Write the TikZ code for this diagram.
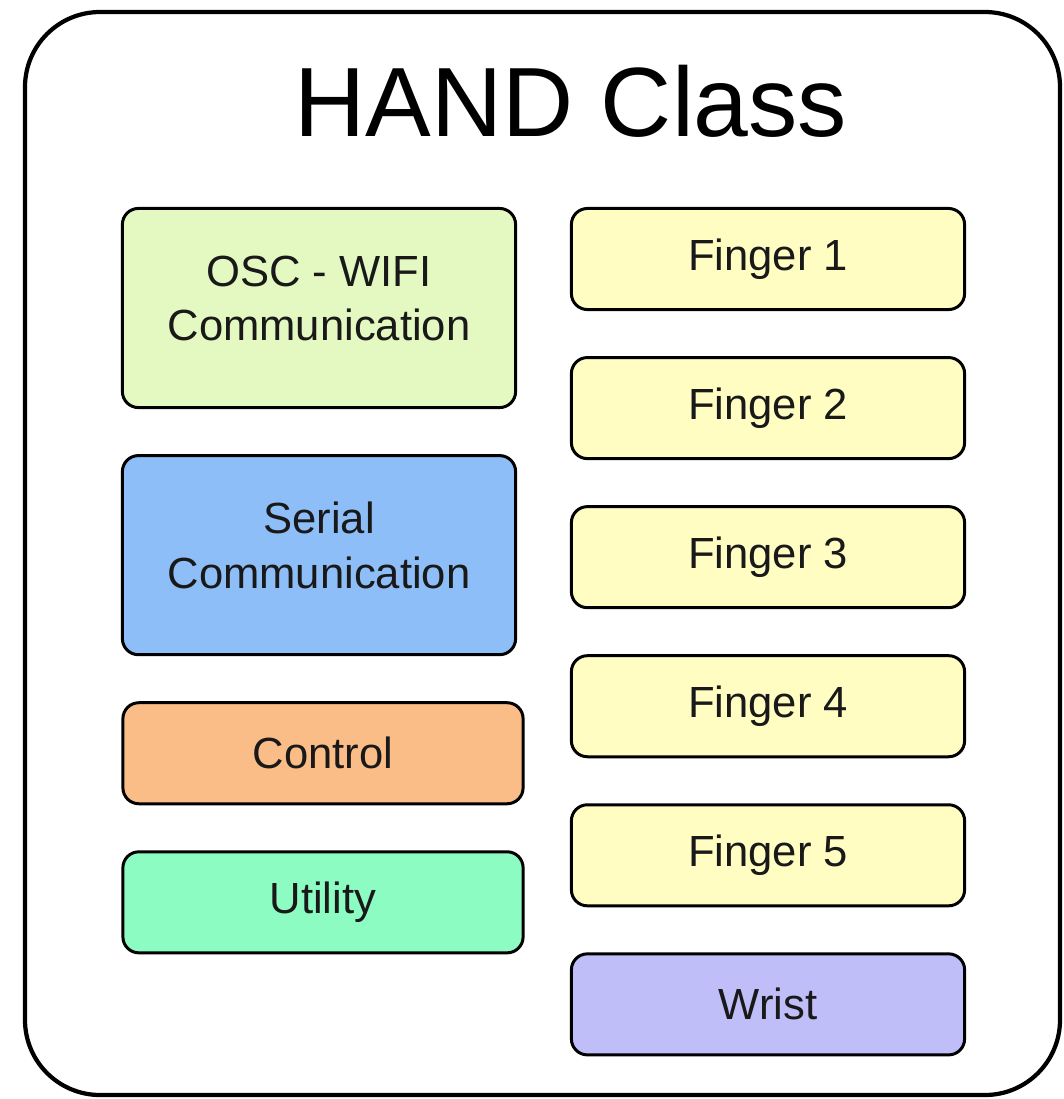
\documentclass[tikz,border=0pt]{standalone}
\usepackage{fontspec}
\setmainfont{Liberation Sans}
\usetikzlibrary{positioning}
\definecolor{wifigreen}{HTML}{E4F9C2}
\definecolor{serialblue}{HTML}{8EBEF8}
\definecolor{ctrlorange}{HTML}{FBBD88}
\definecolor{utilgreen}{HTML}{8CFCC3}
\definecolor{fingeryellow}{HTML}{FFFDC2}
\definecolor{wristviolet}{HTML}{C0BEF8}

\begin{document}
\begin{tikzpicture}[x=0.01cm,y=-0.01cm,
    part/.style={draw=black,line width=0.85pt,rounded corners=0.16cm,align=center,
      minimum width=3.93cm,minimum height=1.01cm,inner sep=0pt,text=black!90,
      font=\fontsize{12.4}{15.4}\selectfont},
    bigpart/.style={part,minimum height=1.99cm,text depth=0.2cm},
    node distance=0.45cm]
  \useasboundingbox (0,0) rectangle (1064,1099);
  \draw[line width=1.2pt,rounded corners=0.75cm] (25,12) rectangle (1060,1095);
  \node[font=\fontsize{28}{32}\selectfont] (title) at (571,101) {HAND Class};
  % left column
  \node[bigpart,fill=wifigreen] (wifi) at (319,308) {OSC - WIFI\\Communication};
  \node[bigpart,fill=serialblue,below=of wifi] (serial) {Serial\\Communication};
  \node[part,fill=ctrlorange,minimum width=4cm,below=of serial,xshift=0.04cm] (control) {Control};
  \node[part,fill=utilgreen,minimum width=4cm,below=of control] (utility) {Utility};
  % right column
  \node[part,fill=fingeryellow] (f1) at (768,259) {Finger 1};
  \foreach \i [remember=\i as \j (initially 1)] in {2,...,5}
    \node[part,fill=fingeryellow,below=of f\j] (f\i) {Finger \i};
  \node[part,fill=wristviolet,below=of f5] (wrist) {Wrist};
\end{tikzpicture}
\end{document}
